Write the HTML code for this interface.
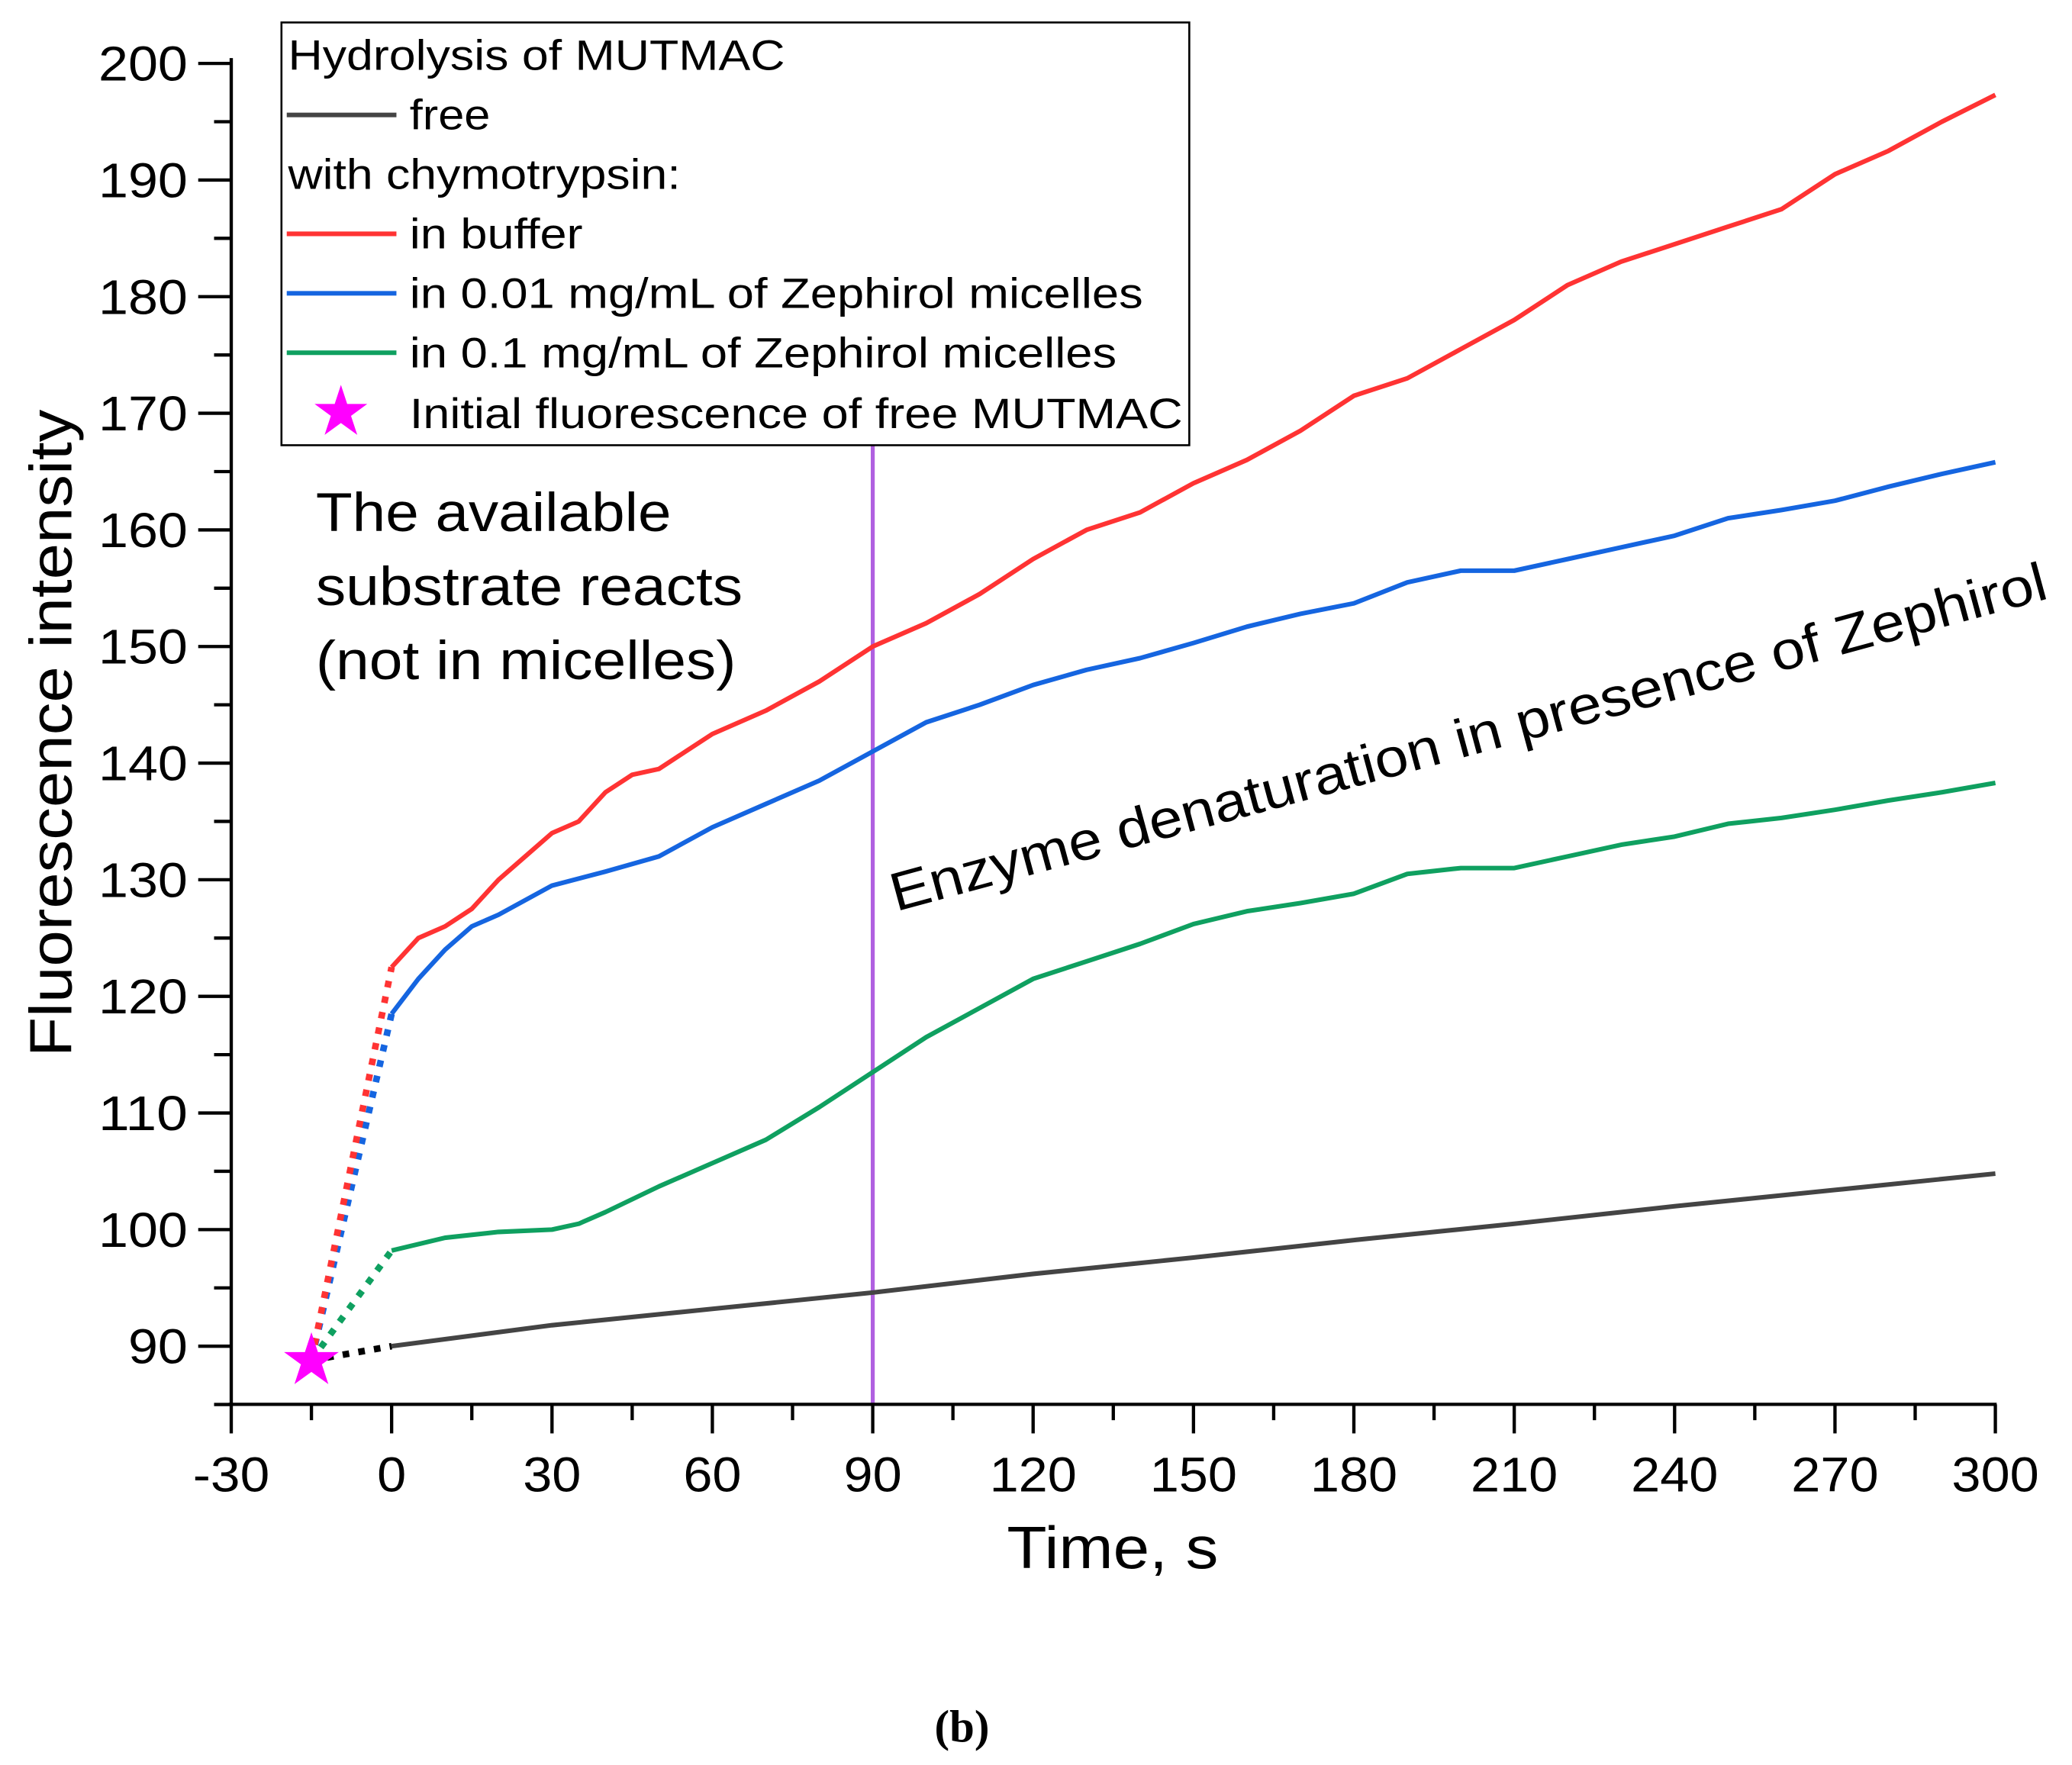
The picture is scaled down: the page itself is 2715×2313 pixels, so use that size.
<!DOCTYPE html>
<html><head><meta charset="utf-8"><style>
html,body{margin:0;padding:0;background:#fff;}
svg{display:block;font-family:"Liberation Sans",sans-serif;}
</style></head><body>
<svg id="chart" width="2715" height="2313" viewBox="0 0 1568 1336" preserveAspectRatio="none" xmlns="http://www.w3.org/2000/svg">
<rect width="1568" height="1336" fill="#fff"/>
<g id="marks"></g>
<g id="axes"></g>
<g>
<rect x="213" y="17" width="687" height="320" fill="#fff" stroke="#000" stroke-width="1.5"/>
<text x="218" y="53" font-size="32" textLength="376" lengthAdjust="spacingAndGlyphs">Hydrolysis of MUTMAC</text>
<line x1="217" y1="87" x2="300" y2="87" stroke="#444" stroke-width="3.5"/>
<text x="310" y="98" font-size="32" textLength="61" lengthAdjust="spacingAndGlyphs">free</text>
<text x="218" y="143" font-size="32" textLength="297" lengthAdjust="spacingAndGlyphs">with chymotrypsin:</text>
<line x1="217" y1="177" x2="300" y2="177" stroke="#f33" stroke-width="3.5"/>
<text x="310" y="188" font-size="32" textLength="131" lengthAdjust="spacingAndGlyphs">in buffer</text>
<line x1="217" y1="222" x2="300" y2="222" stroke="#1565e0" stroke-width="3.5"/>
<text x="310" y="233" font-size="32" textLength="555" lengthAdjust="spacingAndGlyphs">in 0.01 mg/mL of Zephirol micelles</text>
<line x1="217" y1="267" x2="300" y2="267" stroke="#0fa060" stroke-width="3.5"/>
<text x="310" y="278" font-size="32" textLength="535" lengthAdjust="spacingAndGlyphs">in 0.1 mg/mL of Zephirol micelles</text>
<text x="258" y="329" font-size="52" fill="#f0f" text-anchor="middle">★</text>
<text x="310" y="324" font-size="32" textLength="585" lengthAdjust="spacingAndGlyphs">Initial fluorescence of free MUTMAC</text>
</g>
<text font-size="41" x="239" y="402" textLength="269" lengthAdjust="spacingAndGlyphs">The available</text>
<text font-size="41" x="239" y="458" textLength="323" lengthAdjust="spacingAndGlyphs">substrate reacts</text>
<text font-size="41" x="239" y="514" textLength="318" lengthAdjust="spacingAndGlyphs">(not in micelles)</text>
<text font-size="41" transform="translate(678,690) rotate(-15.2)" textLength="905" lengthAdjust="spacingAndGlyphs">Enzyme denaturation in presence of Zephirol</text>
<text x="842" y="1187" font-size="45" text-anchor="middle" textLength="160" lengthAdjust="spacingAndGlyphs">Time, s</text>
<text font-size="45" text-anchor="middle" transform="translate(54,555) rotate(-90)" textLength="490" lengthAdjust="spacingAndGlyphs">Fluorescence intensity</text>
<text x="728" y="1318" font-size="34" font-weight="bold" text-anchor="middle" font-family="Liberation Serif,serif">(b)</text>
</svg>
<script>
const tFree=[0,30,60,90,120,150,180,210,240,270,300];
const vFree=[90,91.8,93.2,94.6,96.2,97.6,99.1,100.5,102,103.4,104.8];
const tRed=[0,5,10,15,20,25,30,35,40,45,50,55,60,70,80,90,100,110,120,130,140,150,160,170,180,190,200,210,220,230,240,250,260,270,280,290,300];
const vRed=[122.5,125,126,127.5,130,132,134,135,137.5,139,139.5,141,142.5,144.5,147,150,152,154.5,157.5,160,161.5,164,166,168.5,171.5,173,175.5,178,181,183,184.5,186,187.5,190.5,192.5,195,197.3];
const tBlue=[0,5,10,15,20,30,40,50,60,70,80,90,100,110,120,130,140,150,160,170,180,190,200,210,220,230,240,250,260,270,280,290,300];
const vBlue=[118.5,121.5,124,126,127,129.5,130.7,132,134.5,136.5,138.5,141,143.5,145,146.7,148,149,150.3,151.7,152.8,153.7,155.5,156.5,156.5,157.5,158.5,159.5,161,161.7,162.5,163.7,164.8,165.8];
const tGreen=[0,10,20,30,35,40,50,60,70,80,90,100,110,120,130,140,150,160,170,180,190,200,210,220,230,240,250,260,270,280,290,300];
const vGreen=[98.2,99.3,99.8,100,100.5,101.5,103.7,105.7,107.7,110.5,113.5,116.5,119,121.5,123,124.5,126.2,127.3,128,128.8,130.5,131,131,132,133,133.7,134.8,135.3,136,136.8,137.5,138.3];
const starT=-15, starV=88.8;
const xTicks=[-30,0,30,60,90,120,150,180,210,240,270,300];
const yTicks=[90,100,110,120,130,140,150,160,170,180,190,200];
const markerT=90;

const NS="http://www.w3.org/2000/svg";
const X=t=>175+(t+30)*(1335/330);
const Y=v=>1019-(v-90)*(971/110);
function mk(tag,attrs,parent){const e=document.createElementNS(NS,tag);for(const k in attrs)e.setAttribute(k,attrs[k]);parent.appendChild(e);return e;}
const marks=document.getElementById('marks'), axes=document.getElementById('axes');

const vl=mk('line',{x1:X(markerT),x2:X(markerT),y1:337,y2:1063,stroke:'#b060e0','stroke-width':3},marks);



const series=[[tFree,vFree,'#444','free'],[tGreen,vGreen,'#0fa060','0.1-mgml'],[tBlue,vBlue,'#1565e0','0.01-mgml'],[tRed,vRed,'#f33','buffer']];
series.forEach(([ts,vs,c,n])=>{
  const d=mk('line',{x1:X(starT),y1:Y(starV),x2:X(ts[0]),y2:Y(vs[0]),stroke:n==='free'?'#000':c,'stroke-width':5,'stroke-dasharray':'5 7'},marks);
  
  
  const p=mk('polyline',{points:ts.map((t,i)=>X(t)+','+Y(vs[i])).join(' '),fill:'none',stroke:c,'stroke-width':3.5,'stroke-linejoin':'round'},marks);
  
  
});
const st=mk('text',{x:X(starT),y:Y(starV)+18,'font-size':54,fill:'#f0f','text-anchor':'middle'},marks);
st.textContent='★';



mk('line',{x1:175,y1:44,x2:175,y2:1063,stroke:'#000','stroke-width':2.5},axes);
mk('line',{x1:173,y1:1063,x2:1511,y2:1063,stroke:'#000','stroke-width':2.5},axes);
for(let v=85;v<=200;v+=5){const maj=v%10===0;mk('line',{x1:maj?150:162,x2:175,y1:Y(v),y2:Y(v),stroke:'#000','stroke-width':2.5},axes);}
yTicks.forEach(v=>{const s=String(v);const t=mk('text',{x:142,y:Y(v)+13,'font-size':37,'text-anchor':'end',textLength:s.length*22.5,lengthAdjust:'spacingAndGlyphs'},axes);t.textContent=s;

});
for(let t=-30;t<=300;t+=15){const maj=t%30===0;mk('line',{x1:X(t),x2:X(t),y1:1063,y2:maj?1085:1075,stroke:'#000','stroke-width':2.5},axes);}
xTicks.forEach(v=>{const s=String(v);const w=s.replace('-','').length*22+(s[0]==='-'?14:0);const t=mk('text',{x:X(v),y:1129,'font-size':37,'text-anchor':'middle',textLength:w,lengthAdjust:'spacingAndGlyphs'},axes);t.textContent=s;

});
</script>
</body></html>
